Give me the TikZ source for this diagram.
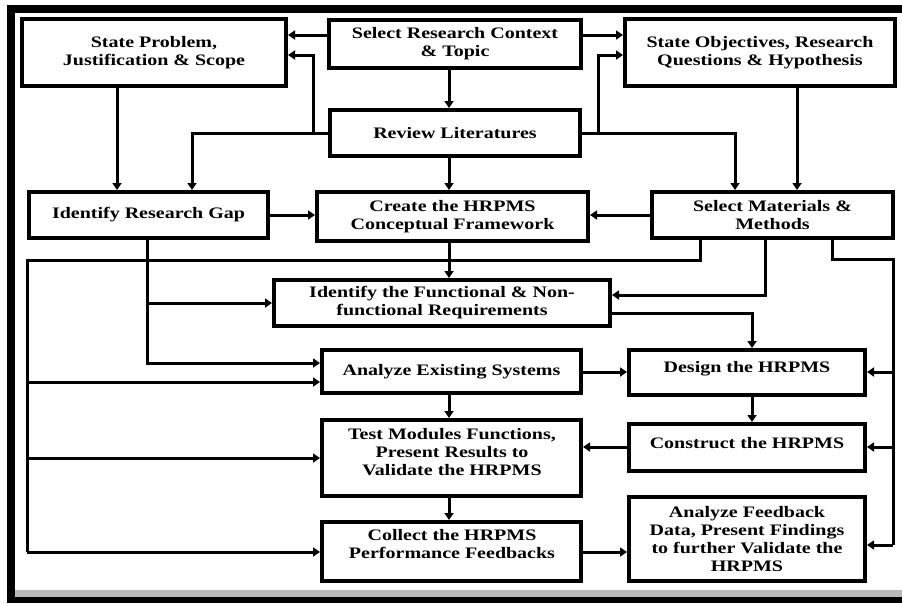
\documentclass[tikz,border=0pt]{standalone}
\usepackage{fontspec}
\setmainfont[FakeStretch=1.25]{Liberation Serif}
\usetikzlibrary{arrows.meta}
\tikzset{
  box/.style={draw,line width=4pt,rectangle,inner sep=0pt,align=center,
    font=\fontsize{16}{18}\selectfont\bfseries},
  lbl/.style={inner sep=0pt,align=center,font=\fontsize{16}{18}\selectfont\bfseries},
  conn/.style={line width=3pt},
  arr/.style={line width=3pt,-{Triangle[length=7pt,width=9pt]}},
}
\begin{document}
\begin{tikzpicture}[x=1pt,y=-1pt]
\useasboundingbox (0,0) rectangle (902,603);
% frame
\fill[black] (7,5) rectangle (902,13);
\fill[black] (7,5) rectangle (15,603);
\fill[gray!55] (15,590) rectangle (902,597);
\fill[black] (7,597) rectangle (902,603);
% boxes
\node[box,minimum width=264pt,minimum height=67pt] (sp) at (154,52.5) {State Problem,\\Justification \& Scope};
\node[box,minimum width=252pt,minimum height=48pt] (src) at (455,44) {Select Research Context\\\& Topic};
\node[box,minimum width=270pt,minimum height=67pt] (so) at (760,52.5) {State Objectives, Research\\Questions \& Hypothesis};
\node[box,minimum width=250pt,minimum height=46pt] (rl) at (455,133) {Review Literatures};
\node[box,minimum width=239pt,minimum height=46pt] (gap) at (148.5,215) {Identify Research Gap};
\node[box,minimum width=271pt,minimum height=49pt] (cf) at (452.5,216.5) {Create the HRPMS\\Conceptual Framework};
\node[box,minimum width=241pt,minimum height=46pt] (mm) at (772.5,215) {Select Materials \&\\Methods};
\node[box,minimum width=336pt,minimum height=46pt] (fr) at (442,303) {Identify the Functional \& Non-\\functional Requirements};
\node[box,minimum width=259pt,minimum height=43pt] (aes) at (451.5,371.5) {Analyze Existing Systems};
\node[box,minimum width=236pt,minimum height=45pt] (des) at (747,372.5) {};
\node[lbl] (desl) at (747,369) {Design the HRPMS};
\node[box,minimum width=236pt,minimum height=47pt] (con) at (747,447.5) {};
\node[lbl] (conl) at (747,443) {Construct the HRPMS};
\node[box,minimum width=259pt,minimum height=76pt] (test) at (451.5,458) {};
\node[lbl] (testl) at (452,452) {Test Modules Functions,\\Present Results to\\Validate the HRPMS};
\node[box,minimum width=259pt,minimum height=59pt] (col) at (451.5,551.5) {};
\node[lbl] (coll) at (452,544) {Collect the HRPMS\\Performance Feedbacks};
\node[box,minimum width=236pt,minimum height=84pt] (afb) at (747,539) {Analyze Feedback\\Data, Present Findings\\to further Validate the\\HRPMS};
% bus coordinates
\coordinate (lb1) at (27,382);
\coordinate (lb2) at (27,458);
\coordinate (lb3) at (27,552);
\coordinate (rb1) at (893,372);
\coordinate (rb2) at (893,447);
\coordinate (rb3) at (893,545);
\coordinate (gb) at (147,303);
% connectors
\draw[arr] (src.west |- 0,35) -- (sp.east |- 0,35);
\draw[arr] (rl.west) -| (313,55) -- (sp.east |- 0,55);
\draw[arr] (rl.west) -| (192,0 |- gap.north);
\draw[arr] (sp.south -| 117,0) -- (gap.north -| 117,0);
\draw[arr] (src.south -| 449,0) -- (rl.north -| 449,0);
\draw[arr] (rl.south -| 449,0) -- (cf.north -| 449,0);
\draw[arr] (src.east |- 0,35) -- (so.west |- 0,35);
\draw[arr] (rl.east) -| (598,55) -- (so.west |- 0,55);
\draw[arr] (rl.east) -| (735,0 |- mm.north);
\draw[arr] (so.south -| 797,0) -- (mm.north -| 797,0);
\draw[arr] (gap.east) -- (cf.west |- gap.east);
\draw[arr] (mm.west) -- (cf.east |- mm.west);
\draw[arr] (cf.south -| 449,0) -- (fr.north -| 449,0);
% left bus
\draw[conn] (mm.south -| 700,0) |- (27,260) -- (lb3);
\draw[arr] (lb1) -- (aes.west |- lb1);
\draw[arr] (lb2) -- (test.west |- lb2);
\draw[arr] (lb3) -- (col.west |- lb3);
% gap branch
\draw[arr] (gap.south -| 147,0) |- (aes.west |- 0,363);
\draw[arr] (gb) -- (fr.west |- gb);
% materials to requirements
\draw[arr] (mm.south -| 765,0) |- (fr.east |- 0,295);
% right bus
\draw[conn] (mm.south -| 832,0) |- (893,259) -- (rb3);
\draw[arr] (rb1) -- (des.east |- rb1);
\draw[arr] (rb2) -- (con.east |- rb2);
\draw[arr] (rb3) -- (afb.east |- rb3);
% lower flow
\draw[arr] (fr.east |- 0,313) -| (des.north -| 752,0);
\draw[arr] (aes.east |- 0,372) -- (des.west |- 0,372);
\draw[arr] (des.south -| 752,0) -- (con.north -| 752,0);
\draw[arr] (con.west |- 0,447) -- (test.east |- 0,447);
\draw[arr] (aes.south -| 449,0) -- (test.north -| 449,0);
\draw[arr] (test.south -| 449,0) -- (col.north -| 449,0);
\draw[arr] (col.east |- 0,552) -- (afb.west |- 0,552);
\end{tikzpicture}
\end{document}
